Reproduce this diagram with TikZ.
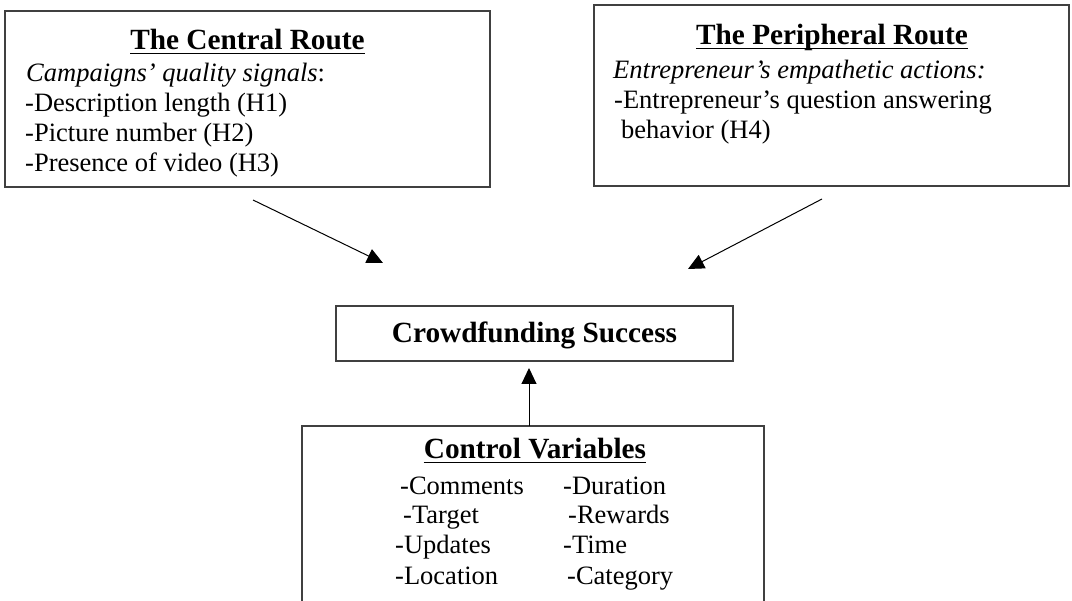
\documentclass[tikz,border=0pt]{standalone}
\usepackage{fontspec}
\setmainfont{Liberation Serif}
\usetikzlibrary{arrows.meta}
\begin{document}
\begin{tikzpicture}[x=1pt,y=-1pt,
  box/.style={draw=black!75, line width=1.4pt, inner sep=0pt, outer sep=0pt, anchor=north west},
  titletext/.style={font=\fontsize{29.3}{32}\selectfont\bfseries, inner sep=0pt, anchor=base},
  bodytext/.style={font=\fontsize{26.5}{30}\selectfont, inner sep=0pt, anchor=base west},
  uline/.style={line width=1.8pt},
  conn/.style={line width=1pt, -{Triangle[length=16pt,width=15pt]}}]
\useasboundingbox (0,0) rectangle (1072,601);
\clip (0,0) rectangle (1072,601);
% boxes
\node[box, minimum width=485pt, minimum height=176pt] (cbox) at (5,11) {};
\node[box, minimum width=475pt, minimum height=181pt] (pbox) at (594,5) {};
\node[box, minimum width=397pt, minimum height=55pt] (succ) at (336,306) {};
\node[box, minimum width=462pt, minimum height=250pt] (ctrl) at (302,426) {};
% central route text
\node[titletext] (ct) at (247.5,50) {The Central Route};
\draw[uline] ([yshift=-3.5pt]ct.base west) -- ([yshift=-3.5pt]ct.base east);
\node[bodytext] (c1) at (26,82) {\textit{Campaigns’ quality signals}:};
\node[bodytext] (c2) at (25,112) {-Description length (H1)};
\node[bodytext] (c3) at (25,142) {-Picture number (H2)};
\node[bodytext] (c4) at (25,172) {-Presence of video (H3)};
% peripheral route text
\node[titletext] (pt) at (832,45) {The Peripheral Route};
\draw[uline] ([yshift=-3.5pt]pt.base west) -- ([yshift=-3.5pt]pt.base east);
\node[bodytext] (p1) at (613,79) {\textit{Entrepreneur’s empathetic actions:}};
\node[bodytext] (p2) at (614,109) {-Entrepreneur’s question answering};
\node[bodytext] (p3) at (621,139) {behavior (H4)};
% success
\node[titletext] (st) at (534.5,343) {Crowdfunding Success};
% control variables
\node[titletext] (vt) at (535,459) {Control Variables};
\draw[uline] ([yshift=-3.5pt]vt.base west) -- ([yshift=-3.5pt]vt.base east);
\node[bodytext] (v1) at (400,495) {-Comments};
\node[bodytext] (v2) at (403,524) {-Target};
\node[bodytext] (v3) at (395,554) {-Updates};
\node[bodytext] (v4) at (395,584) {-Location};
\node[bodytext] (w1) at (563,495) {-Duration};
\node[bodytext] (w2) at (568,524) {-Rewards};
\node[bodytext] (w3) at (563,554) {-Time};
\node[bodytext] (w4) at (567,584) {-Category};
% connectors
\coordinate (a1s) at (253,200);
\coordinate (a1e) at (383,263);
\coordinate (a2s) at (822,199);
\coordinate (a2e) at (688,269);
\coordinate (a3e) at (529,368);
\draw[conn] (a1s) -- (a1e);
\draw[conn] (a2s) -- (a2e);
\draw[conn] (a3e |- ctrl.north) -- (a3e);
\end{tikzpicture}
\end{document}
